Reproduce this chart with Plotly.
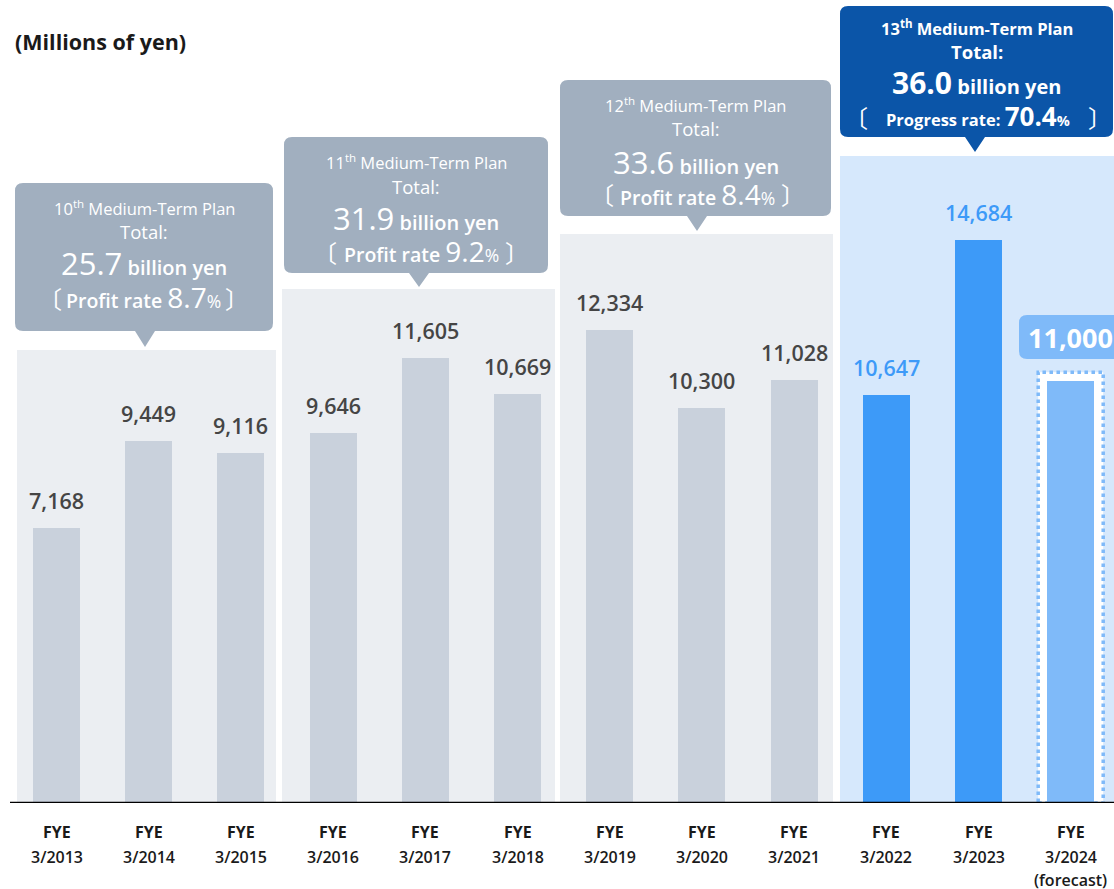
import plotly.graph_objects as go

# ---------------- data ----------------
years = ["3/2013", "3/2014", "3/2015", "3/2016", "3/2017", "3/2018",
         "3/2019", "3/2020", "3/2021", "3/2022", "3/2023", "3/2024"]
profits = [7168, 9449, 9116, 9646, 11605, 10669, 12334, 10300, 11028, 10647, 14684, 11000]
value_labels = ["7,168", "9,449", "9,116", "9,646", "11,605", "10,669",
                "12,334", "10,300", "11,028", "10,647", "14,684", "11,000"]
plan_no = ["10", "11", "12", "13"]
plan_total = ["25.7", "31.9", "33.6", "36.0"]
plan_rate = ["8.7", "9.2", "8.4", "70.4"]
plan_rate_label = ["Profit rate ", "Profit rate ", "Profit rate ", "Progress rate: "]
unit_label = "(Millions of yen)"

# ---------------- layout helpers (pixel -> axis) ----------------
W, H = 1114, 889
ML, MB = 10, 86
PLOT_H = H - MB
X_UNIT = 92.2
X0_PX = 56.5
Y_SCALE = 0.03834  # px per million yen
YMAX = PLOT_H / Y_SCALE


def fx(px):
    return (px - X0_PX) / X_UNIT


def fy(py):
    return (PLOT_H - py) / Y_SCALE


def px_paper(px):
    return (px - ML) / (W - ML)


def py_paper(py):
    return (PLOT_H - py) / PLOT_H


GRAY_PANEL = "#ebeef2"
BLUE_PANEL = "#d6e8fc"
GRAY_BAR = "#c9d1dc"
BLUE_BAR = "#3d9af8"
FC_BAR = "#7fbaf9"
GRAY_CALL = "#a1afbf"
BLUE_CALL = "#0b55a8"
FONT = "Open Sans, Noto Sans, sans-serif"

x_idx = list(range(len(years)))
colors = [GRAY_BAR] * 9 + [BLUE_BAR, BLUE_BAR, FC_BAR]

fig = go.Figure()
fig.add_trace(go.Bar(x=x_idx, y=profits, width=0.51, marker=dict(color=colors, line=dict(width=0)),
                     hoverinfo="skip"))

shapes = []
# background panels
panels = [(17, 276, 350, GRAY_PANEL), (282, 555, 289, GRAY_PANEL),
          (560, 833, 234, GRAY_PANEL), (840, 1114, 156, BLUE_PANEL)]
for x0, x1, top, col in panels:
    shapes.append(dict(type="rect", xref="x", yref="y", x0=fx(x0), x1=fx(x1), y0=0, y1=fy(top),
                       fillcolor=col, line=dict(width=0), layer="below"))

# forecast bar white halo with dotted border
fc = len(years) - 1
shapes.append(dict(type="rect", xref="x", yref="y", x0=fc - 0.255 - 9 / X_UNIT, x1=fc + 0.255 + 9 / X_UNIT,
                   y0=0, y1=profits[fc] + 9 / Y_SCALE, fillcolor="white",
                   line=dict(color=FC_BAR, width=3.5, dash="dot"), layer="below"))


def callout(x0, y0, x1, y1, r, ax, ay, hw):
    pts = [("M", [(x0 + r, y0)]), ("L", [(x1 - r, y0)]), ("Q", [(x1, y0), (x1, y0 + r)]),
           ("L", [(x1, y1 - r)]), ("Q", [(x1, y1), (x1 - r, y1)]), ("L", [(ax + hw, y1)]),
           ("L", [(ax, ay)]), ("L", [(ax - hw, y1)]), ("L", [(x0 + r, y1)]),
           ("Q", [(x0, y1), (x0, y1 - r)]), ("L", [(x0, y0 + r)]), ("Q", [(x0, y0), (x0 + r, y0)])]
    s = ""
    for cmd, ps in pts:
        s += cmd + " ".join(f"{fx(px):.5f},{fy(py):.3f}" for px, py in ps) + " "
    return s + "Z"


callouts = [  # box x0, y0, x1, y1, pointer apex x, apex y
    (15, 183, 273, 331, 145, 347),
    (284, 137, 548, 273, 419, 287),
    (560, 80, 831, 216, 697, 231),
    (840, 6, 1113, 137, 975, 152),
]
for i, (x0, y0, x1, y1, ax, ay) in enumerate(callouts):
    shapes.append(dict(type="path", xref="x", yref="y", path=callout(x0, y0, x1, y1, 8, ax, ay, 10),
                       fillcolor=BLUE_CALL if i == 3 else GRAY_CALL, line=dict(width=0), layer="above"))

# 11,000 label box
shapes.append(dict(type="path", xref="x", yref="y",
                   path=callout(1019, 315, 1125, 359, 8, 1071, 359, 0),
                   fillcolor=FC_BAR, line=dict(width=0), layer="above"))

# baseline
shapes.append(dict(type="line", xref="paper", yref="y", x0=0, x1=1, y0=0, y1=0,
                   line=dict(color="black", width=2.5), layer="above"))

ann = []
# title
ann.append(dict(text=f"<b>{unit_label}</b>", xref="paper", yref="paper", x=px_paper(13), y=py_paper(42),
                xanchor="left", yanchor="middle", showarrow=False,
                font=dict(family=FONT, size=21.5, color="#1a1a1a")))

# value labels
for i, (v, lab) in enumerate(zip(profits, value_labels)):
    if i == fc:
        ann.append(dict(text=f"<b>{lab}</b>", x=i, y=fy(337), xref="x", yref="y", showarrow=False,
                        xanchor="center", yanchor="middle",
                        font=dict(family=FONT, size=27, color="white")))
        continue
    col = "#3d9af8" if i >= 9 else "#454545"
    ann.append(dict(text=lab, x=i, y=v, xref="x", yref="y", showarrow=False,
                    xanchor="center", yanchor="bottom", yshift=11,
                    font=dict(family=FONT, size=21.5, color=col, weight=600)))

# x labels (separate lines)
for i, yr in enumerate(years):
    lines = [("FYE", 832, 700), (yr, 857, 600)]
    if i == fc:
        lines.append(("(forecast)", 880, 600))
    for t, py, wt in lines:
        ann.append(dict(text=t, x=i, y=py_paper(py), xref="x", yref="paper", showarrow=False,
                        xanchor="center", yanchor="middle",
                        font=dict(family=FONT, size=16, color="#1a1a1a", weight=wt)))

# callout texts
line_y = [(208, 231, 263, 297), (162, 186, 218, 251), (105, 129, 162, 194), (28, 51, 83, 116)]
brackets = [(50, 237), (325, 517), (602, 793), (856, 1100)]
for i, (x0, y0, x1, y1, ax, ay) in enumerate(callouts):
    cx = (x0 + x1) / 2
    ly = line_y[i]
    bold = i == 3
    wt = 700 if bold else 500
    lab_wt = "bold" if bold else "600"
    f = dict(family=FONT, color="white", weight=wt)
    ann.append(dict(text=f"{plan_no[i]}<sup>th</sup> Medium-Term Plan", xref="paper", yref="paper",
                    x=px_paper(cx), y=py_paper(ly[0]), showarrow=False, xanchor="center", yanchor="middle",
                    font=dict(f, size=16.5)))
    ann.append(dict(text="Total:", xref="paper", yref="paper",
                    x=px_paper(cx), y=py_paper(ly[1]), showarrow=False, xanchor="center", yanchor="middle",
                    font=dict(f, size=18.5)))
    big = 30 if bold else 31
    small = 20 if bold else 20
    ann.append(dict(text=f"<span style='font-size:{big}px'>{plan_total[i]}</span> "
                         f"<span style='font-weight:{lab_wt}'>billion yen</span>",
                    xref="paper", yref="paper",
                    x=px_paper(cx), y=py_paper(ly[2]), showarrow=False, xanchor="center", yanchor="middle",
                    font=dict(f, size=small)))
    rs = 16.5 if bold else 19.5
    big2 = 26 if bold else 28
    ann.append(dict(text=f"<span style='font-weight:{lab_wt}'>{plan_rate_label[i]}</span>"
                         f"<span style='font-size:{big2}px'>{plan_rate[i]}</span>"
                         f"<span style='font-size:{rs - 2}px'>%</span>",
                    xref="paper", yref="paper",
                    x=px_paper((brackets[i][0] + brackets[i][1]) / 2), y=py_paper(ly[3]),
                    showarrow=False, xanchor="center", yanchor="middle", font=dict(f, size=rs)))
    for bx, ch in zip(brackets[i], ("〔", "〕")):
        ann.append(dict(text=ch, xref="paper", yref="paper", x=px_paper(bx), y=py_paper(ly[3]),
                        showarrow=False, xanchor="center", yanchor="middle",
                        font=dict(family="Noto Sans CJK JP", size=24, color="white")))

fig.update_layout(
    width=W, height=H,
    margin=dict(l=ML, r=0, t=0, b=MB),
    paper_bgcolor="white", plot_bgcolor="white",
    showlegend=False,
    xaxis=dict(range=[fx(ML), fx(W)], showgrid=False, zeroline=False, showticklabels=False,
               ticks="", fixedrange=True),
    yaxis=dict(range=[0, YMAX], showgrid=False, zeroline=False, showticklabels=False,
               ticks="", fixedrange=True),
    shapes=shapes,
    annotations=ann,
    bargap=0,
)

fig.write_html("out.html", config={"displayModeBar": False},
               post_script="document.body.style.margin='0px';document.body.style.overflow='hidden';")
